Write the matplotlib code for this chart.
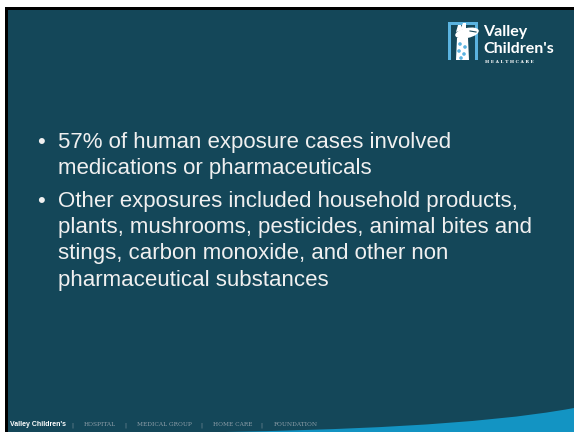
import matplotlib
matplotlib.use("Agg")
import matplotlib.pyplot as plt
from matplotlib.patches import Rectangle, Ellipse, Polygon, PathPatch, Circle
from matplotlib.path import Path

# Slide content
bullets = [
    ["57% of human exposure cases involved",
     "medications or pharmaceuticals"],
    ["Other exposures included household products,",
     "plants, mushrooms, pesticides, animal bites and",
     "stings, carbon monoxide, and other non",
     "pharmaceutical substances"],
]
footer_brand = "Valley Children's"
footer_items = ["HOSPITAL", "MEDICAL GROUP", "HOME CARE", "FOUNDATION"]
logo_lines = ["Valley", "Children's"]
logo_sub = "HEALTHCARE"

W, H = 574, 432
teal = "#144759"
light_blue = "#1394c3"

fig = plt.figure(figsize=(W / 100, H / 100), dpi=100)
fig.patch.set_facecolor("white")
ax = fig.add_axes([0, 0, 1, 1])
ax.set_xlim(0, W)
ax.set_ylim(H, 0)
ax.axis("off")

# border + slide background
ax.add_patch(Rectangle((5, 7), W - 5, H - 7, facecolor="black", edgecolor="none"))
ax.add_patch(Rectangle((8, 10), W - 8, H - 10, facecolor=teal, edgecolor="none"))

# bottom right wave
verts = [(225, H), (330, 430), (480, 425.5), (W, 408), (W, H), (225, H)]
codes = [Path.MOVETO, Path.CURVE4, Path.CURVE4, Path.CURVE4, Path.LINETO, Path.CLOSEPOLY]
ax.add_patch(PathPatch(Path(verts, codes), facecolor=light_blue, edgecolor="none"))

# bullets
txt_font = "Liberation Sans"
y = 148
for para in bullets:
    ax.text(41, y, "\u2022", color="#f0f0f0", fontsize=16, family=txt_font,
            ha="center", va="baseline")
    for line in para:
        ax.text(58, y, line, color="#f0f0f0", fontsize=16, family=txt_font,
                ha="left", va="baseline")
        y += 26.3
    y += 6

# logo icon (rough giraffe)
ax.add_patch(Rectangle((448, 22), 30, 38, facecolor="#5ab3e0", edgecolor="none"))
ax.add_patch(Rectangle((451, 25), 24, 35, facecolor=teal, edgecolor="none"))
ax.add_patch(Polygon([(456, 60), (457, 38), (468, 38), (469, 60)],
                     facecolor="white", edgecolor="none"))
ax.add_patch(Ellipse((467, 33), 24, 10, angle=-12, facecolor="white", edgecolor="none"))
ax.add_patch(Polygon([(456, 32), (458, 25), (461, 25), (462, 30)],
                     facecolor="white", edgecolor="none"))
ax.add_patch(Polygon([(460, 30), (463, 23), (466, 23), (466, 29)],
                     facecolor="white", edgecolor="none"))
for cx, cy in [(460, 44), (465, 47), (459, 51), (464, 54), (461, 58)]:
    ax.add_patch(Circle((cx, cy), 1.8, facecolor="#5ab3e0", edgecolor="none"))
ax.plot([470, 476], [31, 32], color=teal, lw=0.8)

# logo text
ax.text(483, 36, logo_lines[0], color="white", fontsize=11.5, family="Lato",
        fontweight="bold", ha="left", va="baseline")
ax.text(483, 53, logo_lines[1], color="white", fontsize=11.5, family="Lato",
        fontweight="bold", ha="left", va="baseline")
ax.text(485, 63, " ".join(logo_sub), color="white", fontsize=3.2,
        family="DejaVu Serif", fontweight="bold", ha="left", va="baseline")

# footer
ax.text(10, 426, footer_brand, color="white", fontsize=5, family="Liberation Sans",
        fontweight="bold", ha="left", va="baseline")
x = 72
for item in footer_items:
    ax.text(x, 426, "|", color="#8d9ea8", fontsize=4.5, family="DejaVu Serif",
            ha="center", va="baseline")
    t = ax.text(x + 12, 426, item, color="#8d9ea8", fontsize=4.2,
                family="DejaVu Serif", ha="left", va="baseline")
    fig.canvas.draw()
    bb = t.get_window_extent()
    x = x + 12 + bb.width + 9

fig.savefig("out.png", dpi=100, facecolor=fig.get_facecolor())
